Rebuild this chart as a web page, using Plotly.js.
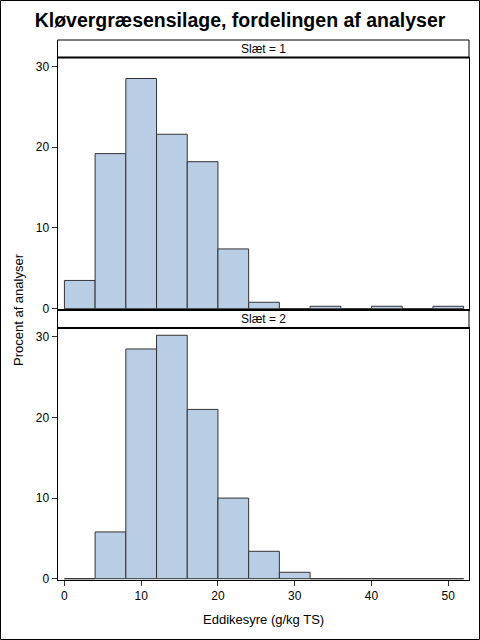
<!DOCTYPE html>
<html>
<head>
<meta charset="utf-8">
<script src="https://cdn.plot.ly/plotly-3.0.1.min.js"></script>
<style>html,body{margin:0;padding:0;background:#fff;}#chart{width:480px;height:640px;}</style>
</head>
<body>
<div id="chart"></div>
<script>
// Data
const binCenters = [2, 6, 10, 14, 18, 22, 26, 30, 34, 38, 42, 46, 50];
const slaet1 = [3.5, 19.2, 28.5, 21.6, 18.2, 7.4, 0.8, 0, 0.3, 0, 0.3, 0, 0.3];
const slaet2 = [0, 5.8, 28.5, 30.2, 21.0, 10.0, 3.4, 0.8, 0, 0, 0, 0, 0];
const panelLabels = ["Slæt = 1", "Slæt = 2"];
const xTicks = [0, 10, 20, 30, 40, 50];
const yTicks = [0, 10, 20, 30];
const titleText = "Kløvergræsensilage, fordelingen af analyser";
const xTitle = "Eddikesyre (g/kg TS)";
const yTitle = "Procent af analyser";

const W = 480, H = 640;
const px = v => v / W;
const py = v => 1 - v / H;

const FONT = "Liberation Sans, Arial, sans-serif";
const fill = "#B9CDE5";
const edge = "#333333";

const barStyle = {
  type: "bar",
  width: 4,
  marker: { color: fill, line: { color: edge, width: 1 } },
  hoverinfo: "x+y",
  showlegend: false
};

const traces = [
  Object.assign({}, barStyle, { x: binCenters, y: slaet1, xaxis: "x", yaxis: "y" }),
  Object.assign({}, barStyle, { x: binCenters, y: slaet2, xaxis: "x2", yaxis: "y2" })
];

const xDom = [px(57.5), px(469)];
const p1 = [py(310), py(57.5)];
const p2 = [py(580), py(328)];
const h1 = [py(57.5), py(40)];
const h2 = [py(328), py(310)];

const commonX = {
  range: [-0.9, 52.7],
  domain: xDom,
  showline: true, mirror: true, linecolor: "#000", linewidth: 1,
  showgrid: false, zeroline: false,
  tickvals: xTicks,
  ticks: "outside", ticklen: 5, tickcolor: "#333",
  tickfont: { family: FONT, size: 12, color: "#000" }
};
const commonY = {
  range: [-0.16, 31.1],
  showline: true, mirror: true, linecolor: "#000", linewidth: 1,
  showgrid: false, zeroline: false,
  tickvals: yTicks,
  ticks: "outside", ticklen: 5, tickcolor: "#333",
  tickfont: { family: FONT, size: 12, color: "#000" }
};

const layout = {
  width: W, height: H,
  margin: { l: 0, r: 0, t: 0, b: 0 },
  paper_bgcolor: "#fff", plot_bgcolor: "#fff",
  bargap: 0,
  title: { text: "<b>" + titleText + "</b>", font: { family: FONT, size: 19.5, color: "#000" },
           x: 0.5, xref: "paper", y: py(20), yref: "paper", yanchor: "middle" },
  xaxis: Object.assign({}, commonX, { anchor: "y", showticklabels: false, ticks: "" }),
  yaxis: Object.assign({}, commonY, { domain: p1, anchor: "x" }),
  xaxis2: Object.assign({}, commonX, { anchor: "y2", matches: "x" }),
  yaxis2: Object.assign({}, commonY, { domain: p2, anchor: "x2" }),
  shapes: [
    { type: "rect", xref: "paper", yref: "paper", x0: px(0.5), x1: px(479.5), y0: py(639.5), y1: py(0.5),
      line: { color: "#000", width: 1 }, fillcolor: "rgba(0,0,0,0)" },
    { type: "rect", xref: "paper", yref: "paper", x0: xDom[0], x1: xDom[1], y0: h1[0], y1: h1[1],
      line: { color: "#000", width: 1 }, fillcolor: "rgba(0,0,0,0)" },
    { type: "rect", xref: "paper", yref: "paper", x0: xDom[0], x1: xDom[1], y0: h2[0], y1: h2[1],
      line: { color: "#000", width: 1 }, fillcolor: "rgba(0,0,0,0)" },
    { type: "line", xref: "paper", yref: "paper", x0: xDom[0], x1: xDom[1], y0: h1[0], y1: h1[0],
      line: { color: "#000", width: 2 } },
    { type: "line", xref: "paper", yref: "paper", x0: xDom[0], x1: xDom[1], y0: h2[0], y1: h2[0],
      line: { color: "#000", width: 2 } },
    { type: "line", xref: "paper", yref: "paper", x0: xDom[0], x1: xDom[1], y0: p1[0], y1: p1[0],
      line: { color: "#000", width: 2 } }
  ],
  annotations: [
    { text: panelLabels[0], xref: "paper", yref: "paper", x: (xDom[0] + xDom[1]) / 2, y: (h1[0] + h1[1]) / 2,
      showarrow: false, xanchor: "center", yanchor: "middle", font: { family: FONT, size: 12, color: "#000" } },
    { text: panelLabels[1], xref: "paper", yref: "paper", x: (xDom[0] + xDom[1]) / 2, y: (h2[0] + h2[1]) / 2,
      showarrow: false, xanchor: "center", yanchor: "middle", font: { family: FONT, size: 12, color: "#000" } },
    { text: xTitle, xref: "paper", yref: "paper", x: (xDom[0] + xDom[1]) / 2, y: py(619),
      showarrow: false, xanchor: "center", yanchor: "middle", font: { family: FONT, size: 13, color: "#000" } },
    { text: yTitle, xref: "paper", yref: "paper", x: px(18), y: py(310), textangle: -90,
      showarrow: false, xanchor: "center", yanchor: "middle", font: { family: FONT, size: 13, color: "#000" } }
  ]
};

Plotly.newPlot("chart", traces, layout, { staticPlot: true, displayModeBar: false });
</script>
</body>
</html>
